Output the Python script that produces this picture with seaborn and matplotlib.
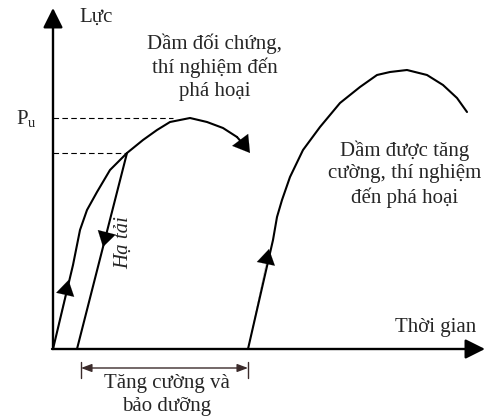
import matplotlib
matplotlib.use("Agg")
import matplotlib.pyplot as plt
import seaborn as sns
import pandas as pd

sns.set_theme(style="white")
plt.rcParams['font.family'] = ['Liberation Serif', 'DejaVu Serif']
plt.rcParams['mathtext.fontset'] = 'custom'
plt.rcParams['mathtext.rm'] = 'Liberation Serif'

# ---- data (time units, force units) ----
control_t = [0, 20, 27, 34, 44, 57, 74, 90, 104, 117, 137, 154, 170, 184]
control_f = [0, 84, 119, 139, 157, 179, 196, 209, 219, 227, 231, 227, 221, 212]
control_end = (197, 196)

unload_t = [74, 24]
unload_f = [196, 0]

reload_t = [195, 220, 224, 229, 237, 250, 267, 287, 307, 324, 337, 354, 374, 390, 404, 414]
reload_f = [0, 109, 132, 149, 172, 199, 222, 246, 262, 274, 277, 279, 274, 264, 251, 237]

Pu = 231
P_unload = 196
t_Pu = 120
t_unload = 74

fig = plt.figure(figsize=(4.91, 4.19), dpi=100)
ax = fig.add_axes([0, 0, 1, 1])
ax.set_xlim(-53, 438)
ax.set_ylim(-70, 349)
ax.axis('off')

lw = 1.5
for t, f in [(control_t, control_f), (unload_t, unload_f), (reload_t, reload_f)]:
    df = pd.DataFrame({'t': t, 'f': f})
    sns.lineplot(data=df, x='t', y='f', sort=False, estimator=None, color='black', lw=lw, ax=ax)
for l in ax.lines:
    l.set_solid_joinstyle('round')
    l.set_solid_capstyle('round')

# dashed guide lines
ax.plot([0, t_Pu], [Pu, Pu], ls=(0, (5, 3)), color='black', lw=0.8)
ax.plot([0, t_unload], [P_unload, P_unload], ls=(0, (5, 3)), color='black', lw=0.8)

# axes with arrows
ax_arrow = dict(arrowstyle='-|>,head_length=1.0,head_width=0.5', color='black', lw=1.7, mutation_scale=12, shrinkA=0, shrinkB=0)
ax.annotate('', xy=(0, 341), xytext=(0, 0), arrowprops=ax_arrow)
ax.annotate('', xy=(432, 0), xytext=(-1, 0), arrowprops=ax_arrow)

# arrowheads along curves
mid = dict(arrowstyle='-|>,head_length=0.9,head_width=0.55', color='black', lw=0.1, mutation_scale=12, shrinkA=0, shrinkB=0)
def head(p0, p1, scale=12):
    d = dict(mid)
    d['mutation_scale'] = scale
    ax.annotate('', xy=p1, xytext=p0, arrowprops=d)

head((control_t[0], control_f[0]), (15.5, 69))
head((unload_t[0], unload_f[0]), (50, 102))
head((reload_t[0], reload_f[0]), (216, 100))
ax.plot([control_t[-1], 191], [control_f[-1], 204], color='black', lw=lw, solid_capstyle='round')
head((191, 204), control_end, scale=13)

# dimension line
dcol = '#3b2b2b'
ax.annotate('', xy=(28, -19), xytext=(195, -19),
            arrowprops=dict(arrowstyle='<|-|>,head_length=0.8,head_width=0.3', color=dcol, lw=1.0,
                            mutation_scale=8, shrinkA=0, shrinkB=0))
ax.plot([28, 28], [-13, -29], color=dcol, lw=1.0)
ax.plot([195, 195], [-13, -29], color=dcol, lw=1.0)

fs = 15
ax.text(43, 332, 'Lực', fontsize=fs, ha='center', va='center')
ax.text(-27, 230, r'P$_\mathregular{u}$', fontsize=fs, ha='center', va='center')
ax.text(162, 282, 'Dầm đối chứng,\nthí nghiệm đến\nphá hoại', fontsize=fs, ha='center', va='center',
        linespacing=1.25)
ax.text(352, 175, 'Dầm được tăng\ncường, thí nghiệm\nđến phá hoại', fontsize=fs, ha='center', va='center',
        linespacing=1.25)
ax.text(383, 22, 'Thời gian', fontsize=fs, ha='center', va='center')
ax.text(71, 106, 'Hạ tải', fontsize=fs, ha='center', va='center', rotation=90, style='italic')
ax.text(114, -46, 'Tăng cường và\nbảo dưỡng', fontsize=fs, ha='center', va='center', linespacing=1.25)

fig.savefig('out.png', dpi=100, facecolor='white')
